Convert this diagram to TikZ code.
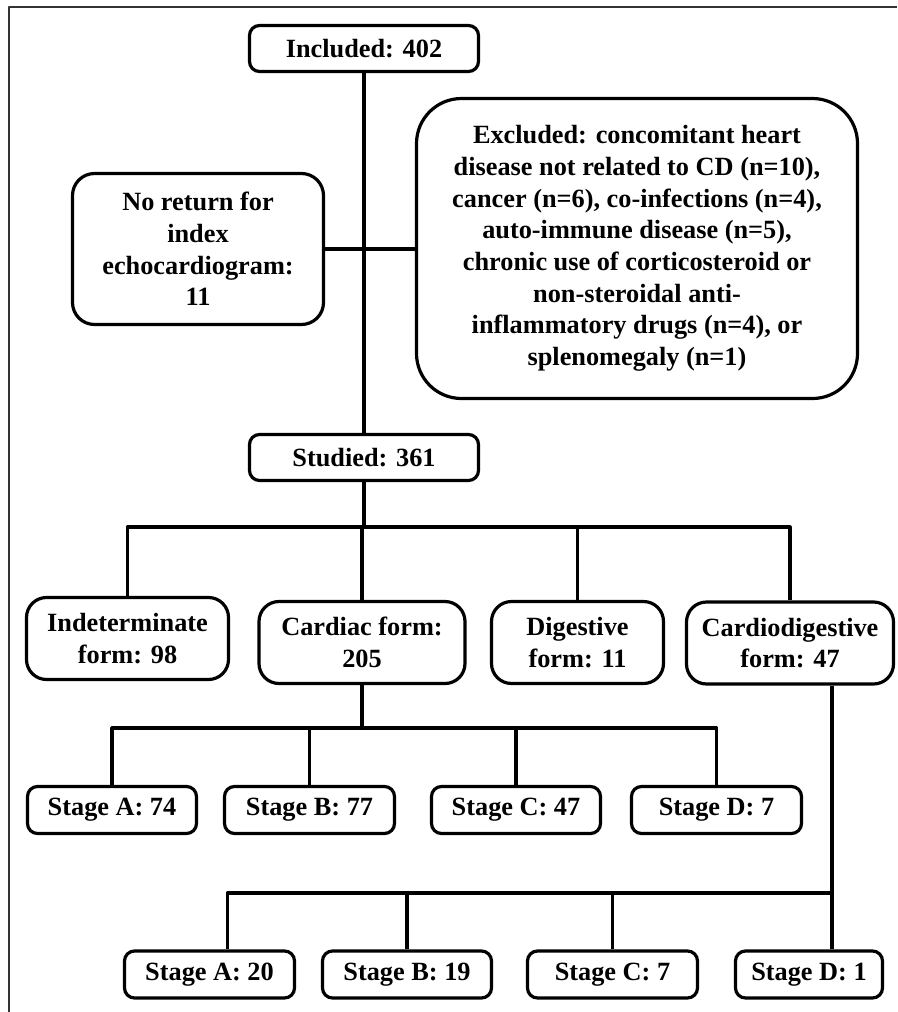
\documentclass[tikz,border=0pt]{standalone}
\usepackage{fontspec}
\setmainfont{Liberation Serif}

\newcommand{\boxfont}{\fontsize{26.3}{31.7}\selectfont\bfseries}

\begin{document}
\begin{tikzpicture}[x=1pt, y=-1pt, line join=round]

  % Node styles
  \tikzstyle{sbox}=[rectangle, draw, line width=3.2pt, rounded corners=10pt, inner sep=0pt, align=center, font=\boxfont]
  \tikzstyle{fbox}=[sbox, rounded corners=20pt, minimum height=82pt]
  \tikzstyle{stbox}=[sbox, minimum height=47pt]
  \tikzstyle{c_path}=[line width=3.2pt]

  % Frame
  \useasboundingbox (0,0) rectangle (897,1012);
  \draw[line width=1.6pt, black!80] (9,1012) -- (9,7) -- (897,7);

  % Nodes
  \node[sbox, minimum width=229pt, minimum height=46pt] (n_incl) at (364,48.5) {Included: 402};
  \node[sbox, rounded corners=22pt, minimum width=251pt, minimum height=151pt] (n_noret) at (198,249)
    {No return for\\index\\echocardiogram:\\11};
  \node[sbox, rounded corners=45pt, minimum width=441pt, minimum height=300pt] (n_excl) at (637,248.5)
    {Excluded: concomitant heart\\disease not related to CD (n=10),\\cancer (n=6), co-infections (n=4),\\auto-immune disease (n=5),\\chronic use of corticosteroid or\\non-steroidal anti-\\inflammatory drugs (n=4), or\\splenomegaly (n=1)};
  \node[sbox, minimum width=229pt, minimum height=46pt] (n_studied) at (364,457.5) {Studied: 361};

  \node[fbox, minimum width=202pt] (n_indet) at (127.5,638.5) {Indeterminate\\form: 98};
  \node[fbox, minimum width=206pt] (n_card) at (362,642.5) {Cardiac form:\\205};
  \node[fbox, minimum width=172pt] (n_dig) at (577.5,642.5) {Digestive\\form: 11};
  \node[fbox, minimum width=207pt] (n_cdig) at (790,643) {Cardiodigestive\\form: 47};

  \node[stbox, minimum width=169pt] (n_sa1) at (112,810) {Stage A: 74};
  \node[stbox, minimum width=170pt] (n_sb1) at (309.5,810) {Stage B: 77};
  \node[stbox, minimum width=169pt] (n_sc1) at (516,810) {Stage C: 47};
  \node[stbox, minimum width=170pt] (n_sd1) at (716.5,810) {Stage D: 7};

  \node[stbox, minimum width=170pt] (n_sa2) at (209.5,974.5) {Stage A: 20};
  \node[stbox, minimum width=169pt] (n_sb2) at (407,974.5) {Stage B: 19};
  \node[stbox, minimum width=170pt] (n_sc2) at (612.5,974.5) {Stage C: 7};
  \node[stbox, minimum width=147pt] (n_sd2) at (809,974.5) {Stage D: 1};

  % Junctions
  \coordinate (j_form) at (364,527);
  \coordinate (j_card) at (362,728);
  \coordinate (j_cdig) at (832,893);

  % Links
  \draw[c_path] (n_incl) -- (n_studied);
  \draw[c_path] (n_noret.east) -- (n_noret.east -| n_excl.west);

  \draw[c_path] (n_studied) -- (j_form);
  \draw[c_path] (n_indet.north) |- (j_form) -| (n_cdig.north);
  \draw[c_path] (n_card.north) -- (n_card.north |- j_form);
  \draw[c_path] (n_dig.north) -- (n_dig.north |- j_form);

  \draw[c_path] (n_card.south) -- (j_card);
  \draw[c_path] (n_sa1.north) |- (j_card) -| (n_sd1.north);
  \draw[c_path] (n_sb1.north) -- (n_sb1.north |- j_card);
  \draw[c_path] (n_sc1.north) -- (n_sc1.north |- j_card);

  \draw[c_path] ([xshift=42pt]n_cdig.south) -- ([xshift=42pt]n_cdig.south |- n_sd2.north);
  \draw[c_path] (j_cdig) -| ([xshift=18pt]n_sa2.north);
  \draw[c_path] (n_sb2.north) -- (n_sb2.north |- j_cdig);
  \draw[c_path] (n_sc2.north) -- (n_sc2.north |- j_cdig);

\end{tikzpicture}
\end{document}
